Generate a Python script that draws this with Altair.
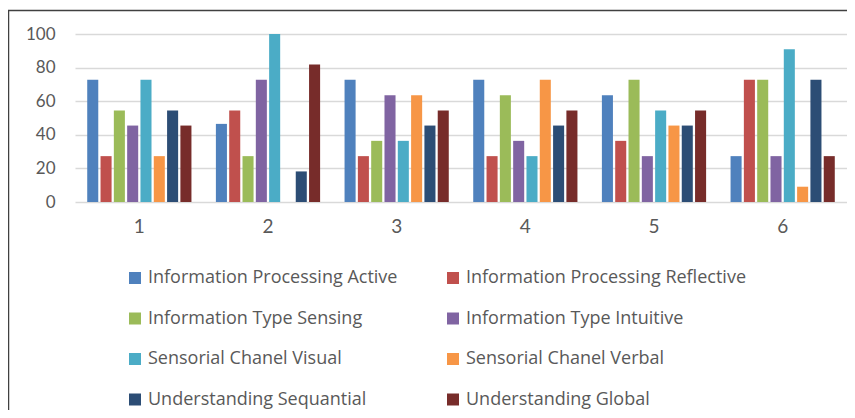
import altair as alt
import pandas as pd

groups = ["1", "2", "3", "4", "5", "6"]
series = [
    "Information Processing Active",
    "Information Processing Reflective",
    "Information Type Sensing",
    "Information Type Intuitive",
    "Sensorial Chanel Visual",
    "Sensorial Chanel Verbal",
    "Understanding Sequantial",
    "Understanding Global",
]
colors = ["#4F81BD", "#C0504D", "#9BBB59", "#8064A2",
          "#4BACC6", "#F79646", "#2C4D75", "#772C2A"]

active = [72.7, 46.5, 72.7, 72.7, 63.6, 27.3]
reflective = [27.3, 54.5, 27.3, 27.3, 36.4, 72.7]
sensing = [54.5, 27.3, 36.4, 63.6, 72.7, 72.7]
intuitive = [45.5, 72.7, 63.6, 36.4, 27.3, 27.3]
visual = [72.7, 100.0, 36.4, 27.3, 54.5, 90.9]
verbal = [27.3, 0.0, 63.6, 72.7, 45.5, 9.1]
sequential = [54.5, 18.2, 45.5, 45.5, 45.5, 72.7]
global_ = [45.5, 81.8, 54.5, 54.5, 54.5, 27.3]

all_values = [active, reflective, sensing, intuitive, visual, verbal, sequential, global_]
rows = []
for s, vals in zip(series, all_values):
    for g, v in zip(groups, vals):
        rows.append({"group": g, "series": s, "value": v})
df = pd.DataFrame(rows)

font = "Lato"
txt = "#595959"

bars = alt.Chart(df).mark_bar().encode(
    x=alt.X("group:N", sort=groups, title=None,
            scale=alt.Scale(paddingInner=0.19, paddingOuter=0.095),
            axis=alt.Axis(labelAngle=0, labelFontSize=19, labelColor=txt, labelFont=font,
                          labelPadding=15, ticks=False, domain=False, grid=False)),
    xOffset=alt.XOffset("series:N", sort=series,
                        scale=alt.Scale(paddingInner=0.17, paddingOuter=0)),
    y=alt.Y("value:Q", title=None,
            scale=alt.Scale(domain=[0, 100]),
            axis=alt.Axis(values=[0, 20, 40, 60, 80, 100], labelFontSize=17, labelColor=txt,
                          labelFont=font, labelPadding=20, ticks=False, domain=False,
                          gridColor="#d9d9d9", gridWidth=1.5)),
    color=alt.Color("series:N", sort=series,
                    scale=alt.Scale(domain=series, range=colors),
                    legend=alt.Legend(title=None, orient="none", legendX=51, legendY=235,
                                      direction="horizontal",
                                      columns=2, columnPadding=46, rowPadding=22.5,
                                      symbolType="square", symbolSize=144, symbolStrokeWidth=0,
                                      labelFontSize=18, labelFont="Open Sans", labelColor=txt,
                                      labelOffset=4, labelLimit=400)),
)

border_df = pd.DataFrame({"k": [0]})
left_line = alt.Chart(border_df).mark_rule(color="#404040", strokeWidth=1.5).encode(
    x=alt.value(-66.5), y=alt.value(-24), y2=alt.value(376))
top_line = alt.Chart(border_df).mark_rule(color="#404040", strokeWidth=1.5).encode(
    x=alt.value(-67), x2=alt.value(772), y=alt.value(-23.5))

chart = alt.layer(bars, left_line, top_line).properties(
    width=772, height=168,
    autosize=alt.AutoSizeParams(type="none"),
    padding={"left": 67, "top": 26, "right": 0, "bottom": 208},
).configure_view(stroke=None)

chart.save("out.html", embed_options={"renderer": "svg", "actions": False})
